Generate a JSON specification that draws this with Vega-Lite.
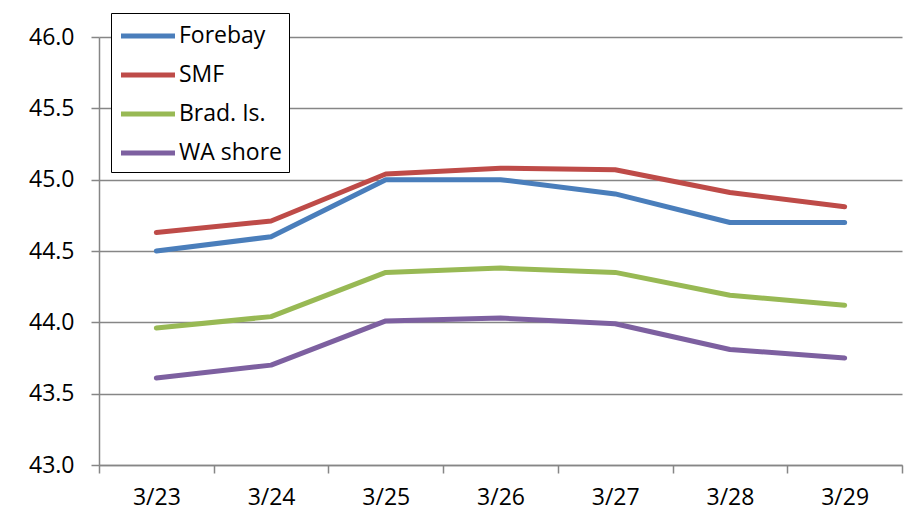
{
  "$schema": "https://vega.github.io/schema/vega-lite/v6.json",
  "autosize": "none",
  "width": 803,
  "height": 428,
  "padding": {"left": 99, "top": 37, "right": 4, "bottom": 55},
  "background": "white",
  "config": {
    "view": {"stroke": null},
    "font": "Open Sans"
  },
  "data": {
    "values": [
      {"date": "3/23", "series": "Forebay", "value": 44.50},
      {"date": "3/24", "series": "Forebay", "value": 44.60},
      {"date": "3/25", "series": "Forebay", "value": 45.00},
      {"date": "3/26", "series": "Forebay", "value": 45.00},
      {"date": "3/27", "series": "Forebay", "value": 44.90},
      {"date": "3/28", "series": "Forebay", "value": 44.70},
      {"date": "3/29", "series": "Forebay", "value": 44.70},
      {"date": "3/23", "series": "SMF", "value": 44.63},
      {"date": "3/24", "series": "SMF", "value": 44.71},
      {"date": "3/25", "series": "SMF", "value": 45.04},
      {"date": "3/26", "series": "SMF", "value": 45.08},
      {"date": "3/27", "series": "SMF", "value": 45.07},
      {"date": "3/28", "series": "SMF", "value": 44.91},
      {"date": "3/29", "series": "SMF", "value": 44.81},
      {"date": "3/23", "series": "Brad. Is.", "value": 43.96},
      {"date": "3/24", "series": "Brad. Is.", "value": 44.04},
      {"date": "3/25", "series": "Brad. Is.", "value": 44.35},
      {"date": "3/26", "series": "Brad. Is.", "value": 44.38},
      {"date": "3/27", "series": "Brad. Is.", "value": 44.35},
      {"date": "3/28", "series": "Brad. Is.", "value": 44.19},
      {"date": "3/29", "series": "Brad. Is.", "value": 44.12},
      {"date": "3/23", "series": "WA shore", "value": 43.61},
      {"date": "3/24", "series": "WA shore", "value": 43.70},
      {"date": "3/25", "series": "WA shore", "value": 44.01},
      {"date": "3/26", "series": "WA shore", "value": 44.03},
      {"date": "3/27", "series": "WA shore", "value": 43.99},
      {"date": "3/28", "series": "WA shore", "value": 43.81},
      {"date": "3/29", "series": "WA shore", "value": 43.75}
    ]
  },
  "mark": {"type": "line", "strokeWidth": 5, "strokeJoin": "round", "strokeCap": "round"},
  "encoding": {
    "x": {
      "field": "date",
      "type": "ordinal",
      "scale": {"type": "band", "paddingInner": 0, "paddingOuter": 0},
      "axis": {
        "title": null,
        "labelAngle": 0,
        "tickBand": "extent",
        "domainColor": "#868686",
        "domainWidth": 1.5,
        "tickColor": "#868686",
        "tickWidth": 1.5,
        "tickSize": 8,
        "labelFontSize": 23,
        "labelColor": "black",
        "labelPadding": 13,
        "grid": false
      }
    },
    "y": {
      "field": "value",
      "type": "quantitative",
      "scale": {"domain": [43, 46], "nice": false, "zero": false},
      "axis": {
        "title": null,
        "values": [43, 43.5, 44, 44.5, 45, 45.5, 46],
        "format": ".1f",
        "domainColor": "#868686",
        "domainWidth": 1.5,
        "tickColor": "#868686",
        "tickWidth": 1.5,
        "tickSize": 8,
        "gridColor": "#868686",
        "gridWidth": 1.5,
        "labelFontSize": 23,
        "labelColor": "black",
        "labelPadding": 17
      }
    },
    "color": {
      "field": "series",
      "type": "nominal",
      "scale": {
        "domain": ["Forebay", "SMF", "Brad. Is.", "WA shore"],
        "range": ["#4a7ebb", "#be4b48", "#98b954", "#7d60a0"]
      },
      "legend": {
        "title": null,
        "orient": "none",
        "legendX": 12,
        "legendY": -24,
        "fillColor": "white",
        "strokeColor": "black",
        "padding": 7,
        "symbolType": "M-2,0H2",
        "symbolSize": 729,
        "symbolStrokeWidth": 5,
        "symbolOffset": 14,
        "labelFontSize": 23,
        "labelColor": "black",
        "labelOffset": 15,
        "rowPadding": 11
      }
    }
  }
}
